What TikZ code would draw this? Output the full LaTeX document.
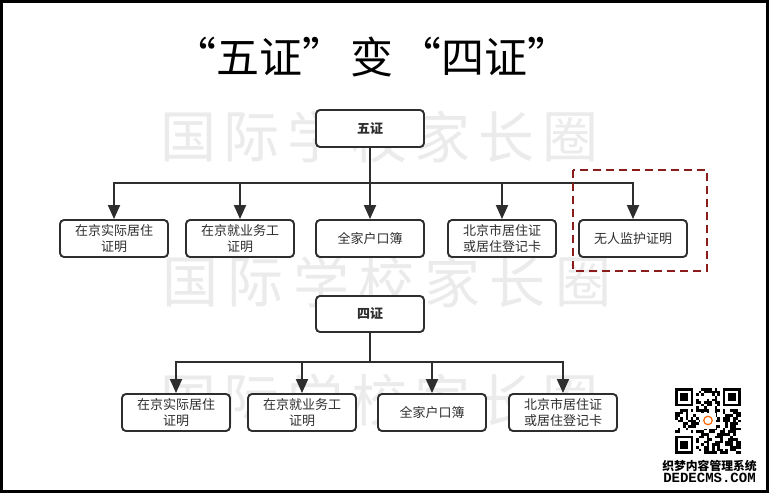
\documentclass[tikz,border=0pt]{standalone}
\usepackage{fontspec}
\setmainfont{Liberation Sans}
\newfontfamily\cjk{Noto Sans CJK SC}
\newfontfamily\monofnt{Liberation Mono}
\usetikzlibrary{arrows.meta}
\definecolor{ink}{HTML}{2E2E2E}
\definecolor{wm}{HTML}{EBEBEB}
\definecolor{dred}{HTML}{8B1C1C}
\tikzset{
  card/.style={draw=ink, line width=1.9pt, rounded corners=4pt, fill=white,
    minimum width=108pt, minimum height=37pt, inner sep=0pt, align=center,
    text=ink, font=\cjk\fontsize{13}{16}\selectfont},
  headcard/.style={card, font=\cjk\bfseries\fontsize{13}{16}\selectfont},
  link/.style={draw=ink, line width=1.9pt, -{Triangle[length=14pt,width=12pt]}},
  trunk/.style={draw=ink, line width=1.9pt},
  wmark/.style={text=wm, font=\cjk\fontsize{56}{56}\selectfont, inner sep=0pt},
  hilite/.style={draw=dred, line width=2pt, dash pattern=on 8pt off 5pt},
}
\begin{document}
\begin{tikzpicture}[x=1pt,y=-1pt]
\useasboundingbox (0,0) rectangle (769,493);
\fill[white] (0,0) rectangle (769,493);
% watermarks
\foreach \c [count=\k from 0] in {国,际,学,校,家,长,圈}{
  \node[wmark] (wa\k) at (188+\k*63.7,137) {\c};
  \node[wmark] (wb\k) at (190+\k*65.5,282) {\c};
  \node[wmark] (wc\k) at (188+\k*63.7,400) {\c};
}
% title
\node[font=\cjk\fontsize{43}{43}\selectfont, inner sep=0pt] (title) at (372,57) {“五证”\hspace{5pt}变\hspace{5pt}“四证”};
% five certificates
\node[headcard] (w) at (370,128.5) {五证};
\node[card] (w1) at (114,238.5) {在京实际居住\\证明};
\node[card] (w2) at (240,238.5) {在京就业务工\\证明};
\node[card] (w3) at (370,238.5) {全家户口簿};
\node[card] (w4) at (502,238.5) {北京市居住证\\或居住登记卡};
\node[card] (w5) at (633,238.5) {无人监护证明};
\coordinate (bus1) at (370,183);
\draw[trunk] (w.south) -- (bus1);
\foreach \n in {w1,w2,w3,w4,w5}{ \draw[link] (bus1) -| (\n.north); }
\coordinate (hl1) at (573,170);
\coordinate (hl2) at (707,271);
\draw[hilite] (hl1) rectangle (hl2);
% four certificates
\node[headcard, minimum height=36pt] (f) at (370,314) {四证};
\node[card] (f1) at (176,412.5) {在京实际居住\\证明};
\node[card] (f2) at (302,412.5) {在京就业务工\\证明};
\node[card] (f3) at (432,412.5) {全家户口簿};
\node[card] (f4) at (563,412.5) {北京市居住证\\或居住登记卡};
\coordinate (bus2) at (370,362);
\draw[trunk] (f.south) -- (bus2);
\foreach \n in {f1,f2,f3,f4}{ \draw[link] (bus2) -| (\n.north); }
% QR code
\def\qx{675}\def\qy{388}\def\m{2.64}
\pgfmathsetseed{11}
\foreach \i in {0,...,24}{\foreach \j in {0,...,24}{
  \pgfmathrandominteger{\r}{0}{1}
  \ifnum\r=1 \fill[black] (\qx+\i*\m,\qy+\j*\m) rectangle ++(\m,\m); \fi
}}
\foreach \a/\b in {0/0,18/0,0/18}{
  \fill[white] (\qx+\a*\m-\m,\qy+\b*\m-\m) rectangle ++(9*\m,9*\m);
  \fill[black] (\qx+\a*\m,\qy+\b*\m) rectangle ++(7*\m,7*\m);
  \fill[white] (\qx+\a*\m+\m,\qy+\b*\m+\m) rectangle ++(5*\m,5*\m);
  \fill[black] (\qx+\a*\m+2*\m,\qy+\b*\m+2*\m) rectangle ++(3*\m,3*\m);
}
\fill[white] (\qx+9.5*\m,\qy+9.5*\m) rectangle ++(6*\m,6*\m);
\draw[orange!80!red, line width=1.2pt] (\qx+12.5*\m,\qy+12.3*\m) circle (1.6*\m);
\node[font=\cjk\bfseries\fontsize{11.8}{12}\selectfont, inner sep=0pt] (dede1) at (709.5,466) {织梦内容管理系统};
\node[font=\monofnt\bfseries\fontsize{14}{14}\selectfont, inner sep=0pt] (dede2) at (709.5,478) {DEDECMS.COM};
% frame
\draw[black, line width=3pt] (1.5,1.5) rectangle (767.5,491.5);
\end{tikzpicture}
\end{document}
